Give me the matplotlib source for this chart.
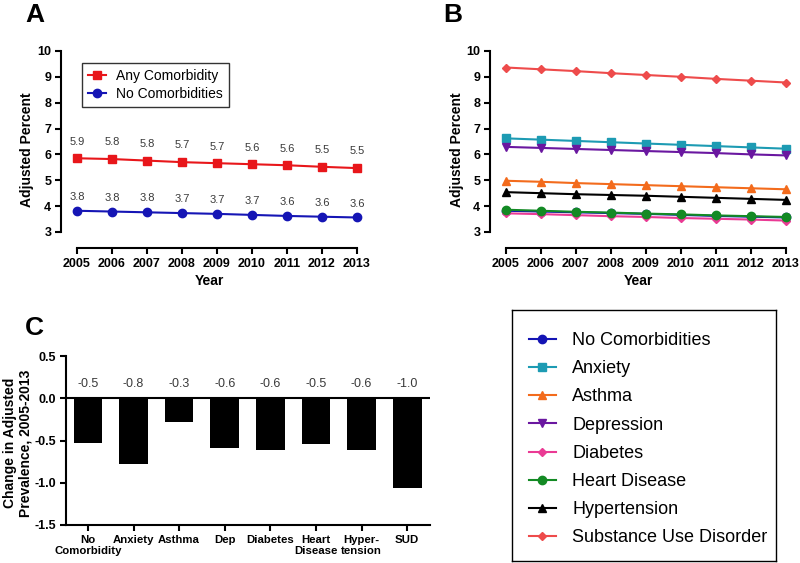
import matplotlib
matplotlib.use("Agg")
import matplotlib.pyplot as plt
import numpy as np

plt.rcParams['font.family'] = ['Liberation Sans', 'DejaVu Sans']

# Datos
anios = [2005, 2006, 2007, 2008, 2009, 2010, 2011, 2012, 2013]

any_comorb = [5.85, 5.82, 5.76, 5.70, 5.66, 5.62, 5.58, 5.52, 5.47]
any_labels = ["5.9", "5.8", "5.8", "5.7", "5.7", "5.6", "5.6", "5.5", "5.5"]
no_comorb = [3.82, 3.79, 3.76, 3.73, 3.70, 3.66, 3.62, 3.59, 3.56]
no_labels = ["3.8", "3.8", "3.8", "3.7", "3.7", "3.7", "3.6", "3.6", "3.6"]

anxiety = [6.62, 6.57, 6.52, 6.47, 6.42, 6.37, 6.32, 6.27, 6.22]
asthma = [4.98, 4.94, 4.89, 4.85, 4.81, 4.77, 4.73, 4.69, 4.65]
depression = [6.29, 6.25, 6.21, 6.17, 6.13, 6.09, 6.05, 6.00, 5.96]
diabetes = [3.72, 3.69, 3.65, 3.61, 3.58, 3.54, 3.51, 3.48, 3.44]
heart = [3.86, 3.82, 3.78, 3.75, 3.71, 3.68, 3.64, 3.61, 3.58]
hypertension = [4.54, 4.50, 4.46, 4.43, 4.40, 4.36, 4.32, 4.28, 4.24]
sud = [9.36, 9.29, 9.22, 9.14, 9.07, 9.00, 8.92, 8.85, 8.78]

barras = ["No\nComorbidity", "Anxiety", "Asthma", "Dep", "Diabetes",
          "Heart\nDisease", "Hyper-\ntension", "SUD"]
cambio = [-0.53, -0.78, -0.28, -0.59, -0.61, -0.54, -0.61, -1.06]
cambio_labels = ["-0.5", "-0.8", "-0.3", "-0.6", "-0.6", "-0.5", "-0.6", "-1.0"]

series_b = [
    ("No Comorbidities", no_comorb, "#1414b4", "o", 6),
    ("Anxiety", anxiety, "#1d9bb3", "s", 6),
    ("Asthma", asthma, "#f36b1c", "^", 6),
    ("Depression", depression, "#6a17a0", "v", 6),
    ("Diabetes", diabetes, "#ea3a94", "D", 4),
    ("Heart Disease", heart, "#138a24", "o", 6),
    ("Hypertension", hypertension, "black", "^", 6),
    ("Substance Use Disorder", sud, "#ee4b4b", "D", 4),
]

LW = 1.5
fig = plt.figure(figsize=(8, 5.63), dpi=100)

def estilo_lineas(ax):
    # ejes separados al estilo GraphPad
    ax.set_xlim(2004.543, 2013)
    ax.set_ylim(2.38, 10)
    ax.spines['top'].set_visible(False)
    ax.spines['right'].set_visible(False)
    ax.spines['left'].set_bounds(3, 10)
    ax.spines['bottom'].set_bounds(2005, 2013)
    ax.spines['left'].set_linewidth(LW)
    ax.spines['bottom'].set_linewidth(LW)
    ax.set_xticks(anios)
    ax.set_yticks(range(3, 11))
    ax.tick_params(width=LW, length=4, labelsize=9, pad=3)
    for t in ax.get_xticklabels() + ax.get_yticklabels():
        t.set_fontweight('bold')
    ax.set_xlabel("Year", fontsize=10, fontweight='bold', labelpad=3)
    ax.set_ylabel("Adjusted Percent", fontsize=10, fontweight='bold', labelpad=2)

# Panel A
axA = fig.add_axes([61 / 800, 0.5595, 296 / 800, 0.35])
axA.plot(anios, any_comorb, color="#e8161a", marker="s", ms=6, lw=1.5,
         label="Any Comorbidity", clip_on=False)
axA.plot(anios, no_comorb, color="#1515b5", marker="o", ms=6, lw=1.5,
         label="No Comorbidities", clip_on=False)
for x, y, s in zip(anios, any_comorb, any_labels):
    axA.annotate(s, (x, y), xytext=(0, 12), textcoords="offset points",
                 ha="center", va="center", fontsize=8, color="#3a3a3a")
for x, y, s in zip(anios, no_comorb, no_labels):
    axA.annotate(s, (x, y), xytext=(0, 10), textcoords="offset points",
                 ha="center", va="center", fontsize=8, color="#3a3a3a")
estilo_lineas(axA)
legA = axA.legend(loc="upper left", bbox_to_anchor=(0.071, 0.939), fontsize=10,
                  fancybox=False, edgecolor="black", handlelength=1.3,
                  handletextpad=0.7, borderpad=0.45, labelspacing=0.25,
                  borderaxespad=0)
legA.get_frame().set_linewidth(1.0)

# Panel B
axB = fig.add_axes([490 / 800, 0.5595, 296 / 800, 0.35])
handles = []
for nombre, vals, col, mk, ms in series_b:
    h, = axB.plot(anios, vals, color=col, marker=mk, ms=ms, lw=1.5,
                  label=nombre, clip_on=False)
    handles.append(h)
estilo_lineas(axB)

# Panel C
axC = fig.add_axes([0.0825, 0.0675, 0.455, 0.30])
pos = np.arange(len(barras))
axC.bar(pos, cambio, width=0.63, color="black")
axC.axhline(0, color="black", lw=LW)
for x, v, s in zip(pos, cambio, cambio_labels):
    axC.text(x, 0.17, s, ha="center", va="center", fontsize=9, color="#3a3a3a")
axC.set_xlim(-0.48, 7.5)
axC.set_ylim(-1.5, 0.5)
axC.set_yticks([-1.5, -1.0, -0.5, 0.0, 0.5])
axC.set_yticklabels(["-1.5", "-1.0", "-0.5", "0.0", "0.5"])
axC.set_xticks(pos)
axC.set_xticklabels(barras, fontsize=8.2)
axC.spines['top'].set_visible(False)
axC.spines['right'].set_visible(False)
axC.spines['left'].set_linewidth(LW)
axC.spines['bottom'].set_linewidth(LW)
axC.tick_params(width=LW, length=4, pad=3)
axC.tick_params(axis='y', labelsize=9)
for t in axC.get_xticklabels() + axC.get_yticklabels():
    t.set_fontweight('bold')
fig.text(18 / 800, 1 - 443 / 563, "Change in Adjusted\nPrevalence, 2005-2013",
         rotation=90, ha="center", va="center", multialignment="center",
         fontsize=10, fontweight='bold', linespacing=1.1)

# Leyenda del panel B, en su propio recuadro
axL = fig.add_axes([512 / 800, 1 - 561 / 563, 264 / 800, 251 / 563])
axL.set_xticks([])
axL.set_yticks([])
for sp in axL.spines.values():
    sp.set_linewidth(1.0)
axL.legend(handles=handles, loc="center", bbox_to_anchor=(0.515, 0.485),
           fontsize=13, frameon=False, handlelength=1.5, handletextpad=0.9,
           labelspacing=0.62)

# Letras de panel
fig.text(25 / 800, 1 - 22 / 563, "A", fontsize=19, fontweight='bold', va='baseline')
fig.text(443 / 800, 1 - 22 / 563, "B", fontsize=19, fontweight='bold', va='baseline')
fig.text(25 / 800, 1 - 335 / 563, "C", fontsize=19, fontweight='bold', va='baseline')

plt.savefig("out.png", dpi=100)
